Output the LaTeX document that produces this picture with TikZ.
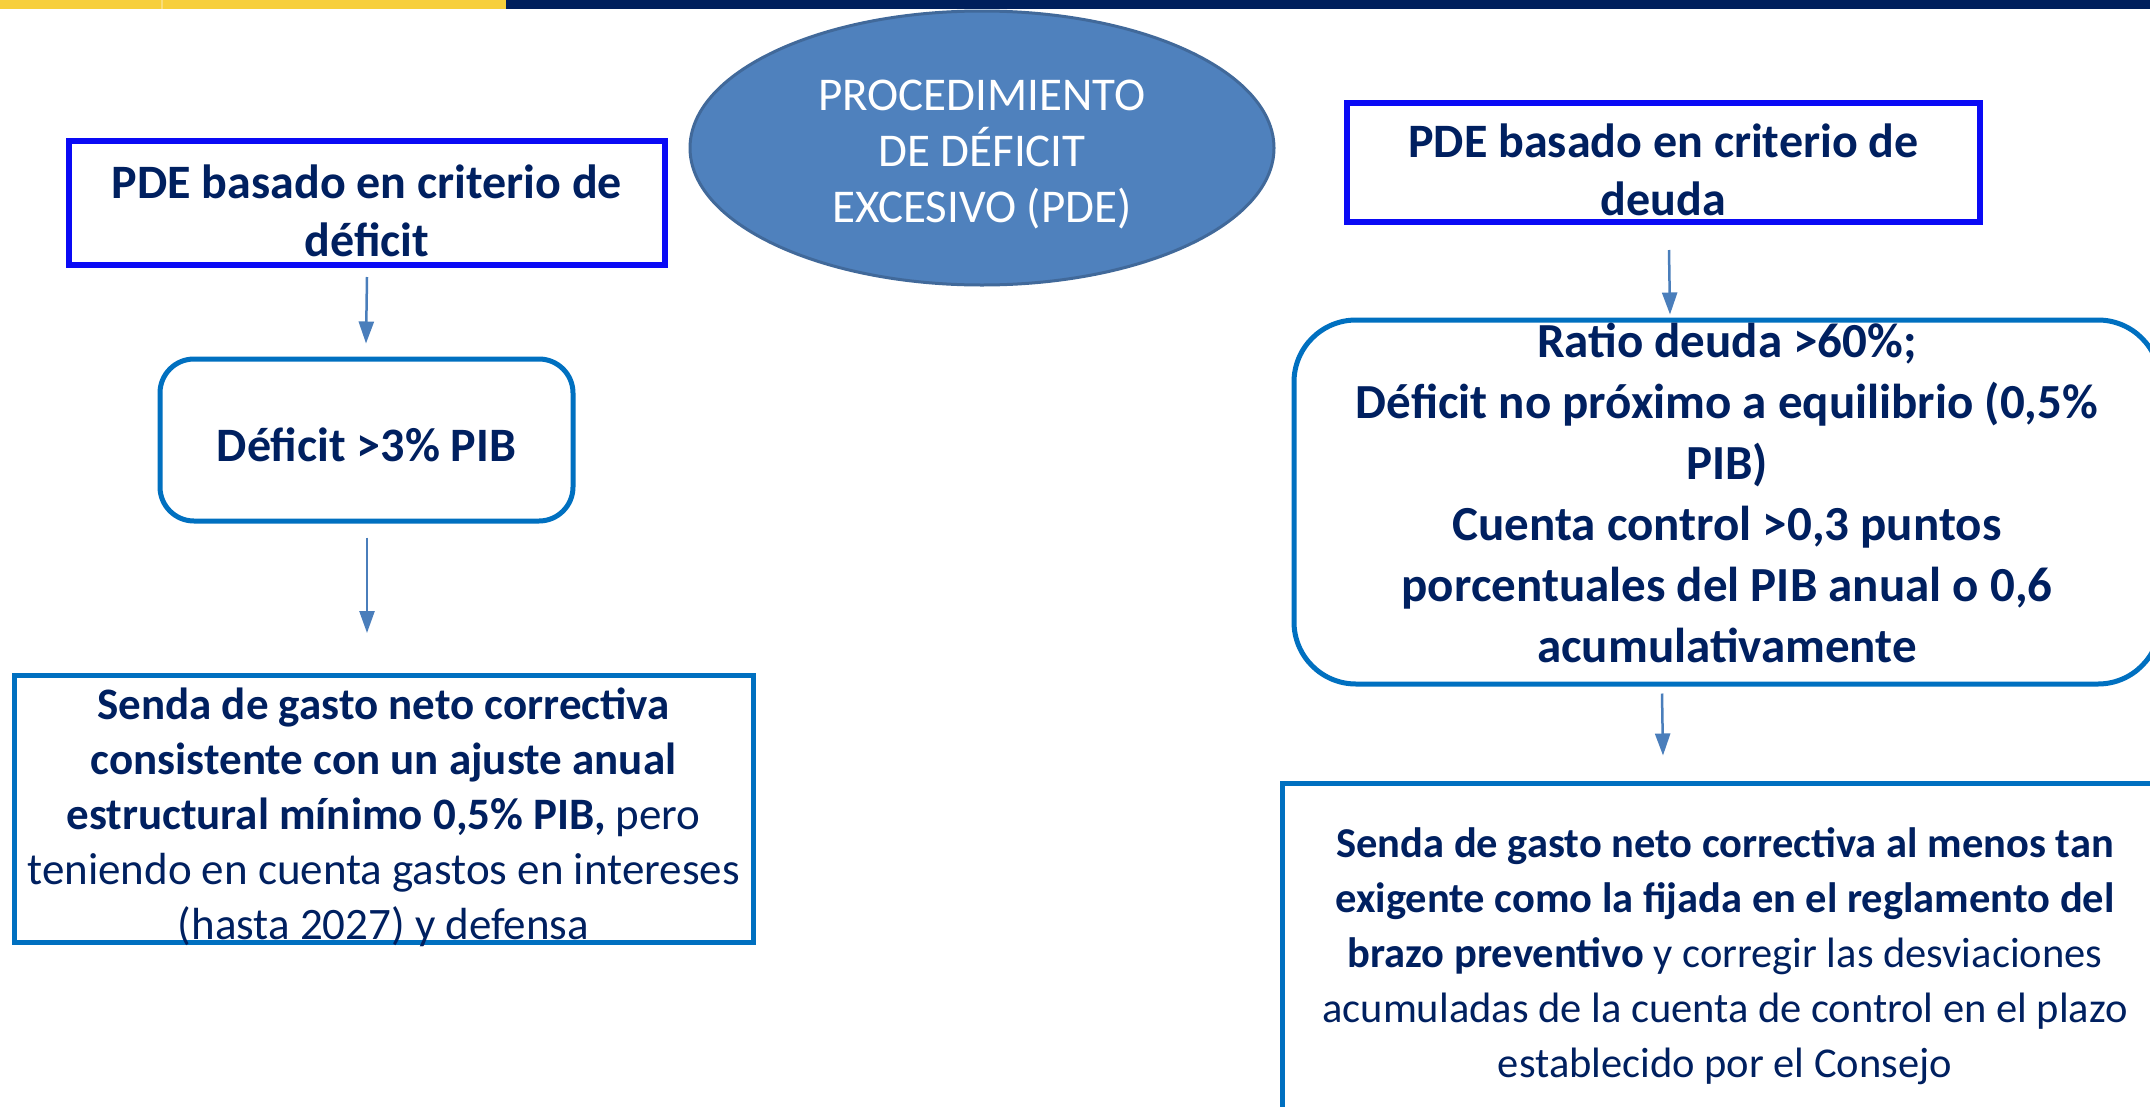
\documentclass[tikz,border=0pt]{standalone}
\usepackage{fontspec}
\setmainfont{Carlito}
\usetikzlibrary{arrows.meta,shapes.geometric}
\definecolor{navy}{HTML}{002060}
\definecolor{barnavy}{HTML}{001F5C}
\definecolor{baryellow}{HTML}{F7CF3B}
\definecolor{boxblue}{HTML}{0070C0}
\definecolor{brightblue}{HTML}{0A0AF5}
\definecolor{ellfill}{HTML}{4F81BD}
\definecolor{elldraw}{HTML}{41699A}
\definecolor{arrowblue}{HTML}{4A7EBB}
\tikzset{
  hdrbox/.style={draw=brightblue, line width=6pt, rectangle, inner sep=0pt},
  roundbox/.style={draw=boxblue, line width=5pt, rectangle, rounded corners=34pt, inner sep=0pt},
  sqbox/.style={draw=boxblue, line width=5pt, rectangle, inner sep=0pt},
  txt/.style={inner sep=0pt, align=center, text=navy},
  arr/.style={draw=arrowblue, line width=2.5pt, -{Triangle[width=15pt,length=22pt]}},
}
\begin{document}
\begin{tikzpicture}[x=1pt,y=-1pt]
\clip (0,0) rectangle (2150,1106);
\fill[white] (0,0) rectangle (2150,1106);
% top bar
\fill[barnavy] (0,0) rectangle (2150,9);
\fill[baryellow] (0,0) rectangle (506,9);
\fill[baryellow!70!white] (161,0) rectangle (163,9);
% ellipse
\node[ellipse, draw=elldraw, line width=3pt, fill=ellfill, minimum width=584pt, minimum height=274pt, inner sep=0pt] (E0) at (982,148) {};
\node[inner sep=0pt, align=center, text=white, font=\fontsize{47}{56}\selectfont] (E0t) at (982,155) {PROCEDIMIENTO\\DE DÉFICIT\\EXCESIVO (PDE)};
% left column
\node[hdrbox, minimum width=596pt, minimum height=124pt] (A) at (367,203) {};
\node[txt, font=\fontsize{48}{58}\selectfont\bfseries] (At) at (367,211) {PDE basado en criterio de\\déficit};
\node[roundbox, minimum width=413pt, minimum height=162pt] (B) at (366.5,440) {};
\node[txt, font=\fontsize{48}{58}\selectfont\bfseries] (Bt) at (366.5,445) {Déficit >3\% PIB};
\node[sqbox, minimum width=739pt, minimum height=267pt] (C) at (383.5,809) {};
\node[txt, font=\fontsize{45}{55}\selectfont] (Ct) at (383.5,817) {\textbf{Senda de gasto neto correctiva}\\\textbf{consistente con un ajuste anual}\\\textbf{estructural mínimo 0,5\% PIB,} pero\\teniendo en cuenta gastos en intereses\\(hasta 2027) y defensa};
% right column
\node[hdrbox, minimum width=633pt, minimum height=119pt] (D) at (1663.5,162.5) {};
\node[txt, font=\fontsize{48}{58}\selectfont\bfseries] (Dt) at (1663.5,170) {PDE basado en criterio de\\deuda};
\node[roundbox, rounded corners=62pt, minimum width=866pt, minimum height=364pt] (E) at (1727,502) {};
\node[txt, font=\fontsize{49}{61}\selectfont\bfseries] (Et) at (1727,493) {Ratio deuda >60\%;\\Déficit no próximo a equilibrio (0,5\%\\PIB)\\Cuenta control >0,3 puntos\\porcentuales del PIB anual o 0,6\\acumulativamente};
\node[sqbox, minimum width=878pt, minimum height=340pt] (F) at (1721,953) {};
\node[txt, font=\fontsize{42.5}{55}\selectfont] (Ft) at (1725,956) {\textbf{Senda de gasto neto correctiva al menos tan}\\\textbf{exigente como la fijada en el reglamento del}\\\textbf{brazo preventivo} y corregir las desviaciones\\acumuladas de la cuenta de control en el plazo\\establecido por el Consejo};
% arrows
\draw[arr] ([yshift=-9pt]A.south) -- ([xshift=-0.5pt,yshift=13pt]B.north);
\draw[arr] ([xshift=0.5pt,yshift=-14pt]B.south) -- ([xshift=-16.5pt,yshift=40pt]C.north);
\draw[arr] ([xshift=5.5pt,yshift=-25pt]D.south) -- ([xshift=-57pt,yshift=3pt]E.north);
\draw[arr] ([xshift=-65pt,yshift=-7pt]E.south) -- ([xshift=-58pt,yshift=25pt]F.north);
\end{tikzpicture}
\end{document}
